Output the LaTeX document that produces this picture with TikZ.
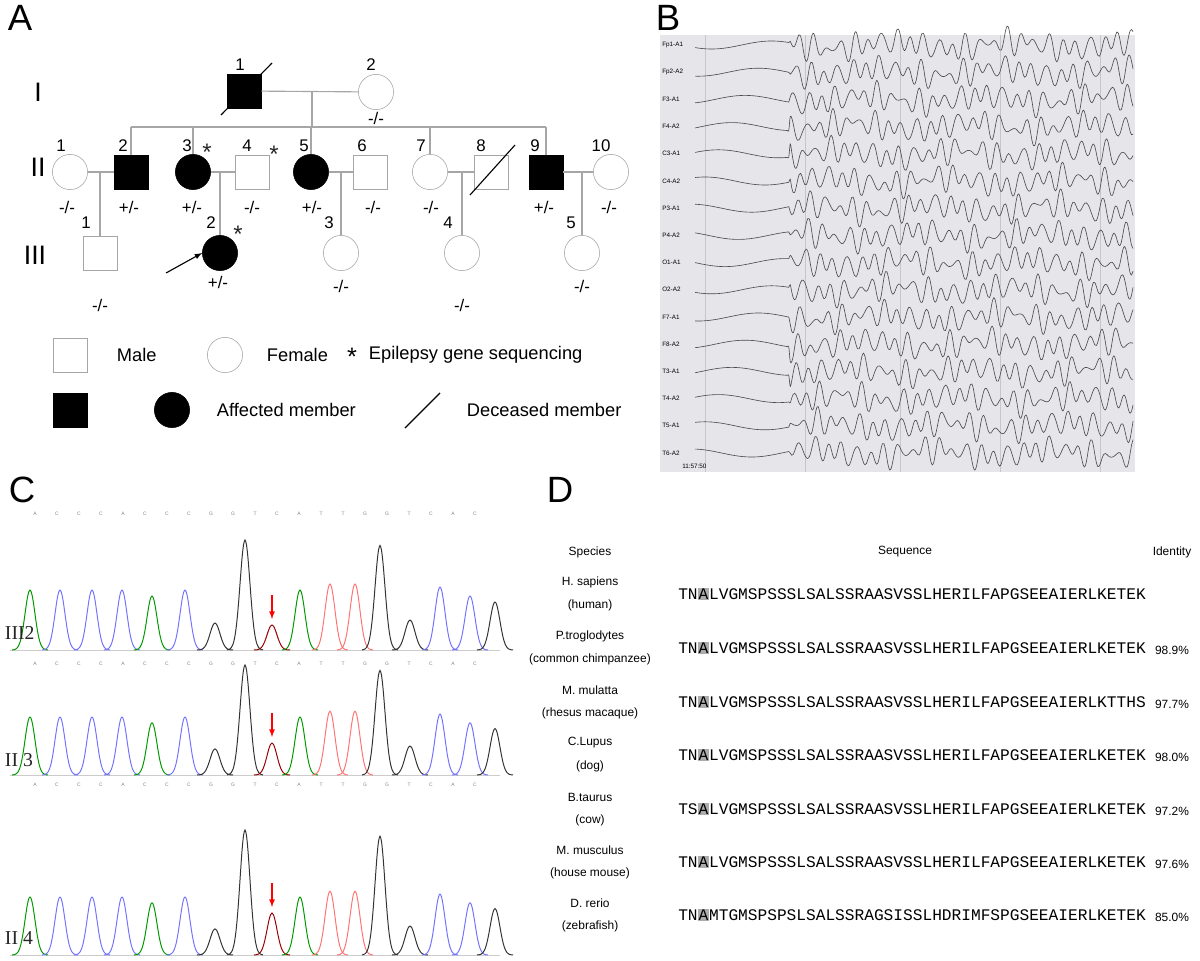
\documentclass[tikz,border=0pt]{standalone}
\usepackage{fontspec}
\setmainfont{Liberation Sans}
\newfontfamily\seqfont{Liberation Mono}
\newfontfamily\serifont{Liberation Serif}
\usetikzlibrary{positioning}
\tikzset{
  male/.style={draw=gray!70, fill=white, minimum size=0.86cm, inner sep=0pt},
  female/.style={draw=gray!70, fill=white, circle, minimum size=0.88cm, inner sep=0pt},
  aff/.style={fill=black, draw=black},
  lbl/.style={font=\fontsize{12}{12}\selectfont},
  gen/.style={font=\fontsize{19}{19}\selectfont},
  panel/.style={font=\fontsize{26}{26}\selectfont},
  pline/.style={gray!70, line width=0.8pt},
  trace/.style={gray!60!black, line width=0.45pt},
  spec/.style={font=\fontsize{8.5}{10}\selectfont},
  seq/.style={font=\seqfont\fontsize{11.5}{12}\selectfont, anchor=west, inner sep=0pt},
  clbl/.style={font=\serifont\fontsize{14}{14}\selectfont, gray!30!black, anchor=west}
}
\begin{document}
\begin{tikzpicture}[x=0.025cm, y=-0.025cm]
\useasboundingbox (0,0) rectangle (1200,960);

% panel letters
\node[panel] at (20,18) {A};
\node[panel] at (668,18) {B};
\node[panel] at (22,490) {C};
\node[panel] at (560,490) {D};

% generations
\node[gen] at (38,92) {I};
\node[gen] at (38,167) {II};
\node[gen] at (35,255) {III};

% generation I
\node[male,aff] (i1) at (244,91) {};
\node[female] (i2) at (376,92) {};
\draw[pline] (i1) -- (i2);
\coordinate (im) at (312,92);
\draw[pline] (im) -- (312,127);
\draw[pline] (131,127) -- (546,127);
\draw[line width=0.8pt] (221,115) -- (272,63);

% generation II
\node[female] (ii1) at (70,172) {};
\node[male,aff] (ii2) at (131,172) {};
\node[female,aff] (ii3) at (193,172) {};
\node[male] (ii4) at (252,172) {};
\node[female,aff] (ii5) at (311,172) {};
\node[male] (ii6) at (370,172) {};
\node[female] (ii7) at (430,172) {};
\node[male] (ii8) at (491,172) {};
\node[male,aff] (ii9) at (546,172) {};
\node[female] (ii10) at (611,172) {};
\draw[pline] (ii2.north) -- (131,127);
\draw[pline] (ii3.north) -- (193,127);
\draw[pline] (ii5.north) -- (311,127);
\draw[pline] (ii7.north) -- (430,127);
\draw[pline] (ii9.north) -- (546,127);
\draw[pline] (ii1) -- (ii2);
\draw[pline] (ii3) -- (ii4);
\draw[pline] (ii5) -- (ii6);
\draw[pline] (ii7) -- (ii8);
\draw[pline] (ii9) -- (ii10);
\draw[line width=0.8pt] (470,195) -- (515,145);

% generation III
\node[male] (iii1) at (100,253) {};
\node[female,aff] (iii2) at (220,253) {};
\node[female] (iii3) at (341,253) {};
\node[female] (iii4) at (462,253) {};
\node[female] (iii5) at (582,253) {};
\draw[pline] (100,172) -- (iii1.north);
\draw[pline] (220,172) -- (iii2.north);
\draw[pline] (341,172) -- (iii3.north);
\draw[pline] (462,172) -- (iii4.north);
\draw[pline] (582,172) -- (iii5.north);
\draw[-latex, line width=0.8pt] (166,273) -- (iii2.west);

% numbers
\foreach \x/\y/\t in {240/65/1,371/65/2,61/146/1,123/146/2,187/146/3,247/146/4,304/146/5,362/146/6,421/146/7,481/146/8,535/146/9,601/146/10,86/223/1,211/223/2,329/223/3,448/223/4,571/223/5}
  \node[lbl] at (\x,\y) {\t};
% asterisks
\foreach \x/\y in {207/152,274/154,238/234}
  \node[font=\fontsize{17}{17}\selectfont, gray!30!black] at (\x,\y) {*};
% genotypes
\foreach \x/\y/\t in {376/118/{-/-},67/207/{-/-},129/207/{+/-},192/207/{+/-},252/207/{-/-},312/207/{+/-},373/207/{-/-},431/207/{-/-},544/207/{+/-},609/207/{-/-},100/305/{-/-},218/282/{+/-},341/286/{-/-},462/305/{-/-},582/286/{-/-}}
  \node[lbl] at (\x,\y) {\t};

% legend
\node[male] (lm) at (70,355) {};
\node[lbl, font=\fontsize{13}{13}\selectfont, anchor=west] at (112,355) {Male};
\node[female] (lf) at (225,355) {};
\node[lbl, font=\fontsize{13}{13}\selectfont, anchor=west] at (262,355) {Female};
\node[font=\fontsize{18}{18}\selectfont] at (352,357) {*};
\node[lbl, font=\fontsize{13}{13}\selectfont, anchor=west] at (364,355) {Epilepsy gene sequencing};
\node[male,aff] (la) at (70,410) {};
\node[female,aff] (lb) at (172,410) {};
\node[lbl, font=\fontsize{13}{13}\selectfont, anchor=west] at (212,410) {Affected member};
\draw[line width=0.8pt] (405,428) -- (440,393);
\node[lbl, font=\fontsize{13}{13}\selectfont, anchor=west] at (462,410) {Deceased member};

% panel B: EEG
\fill[blue!8!gray!18] (660,35) rectangle (1135,472);
\foreach \x in {705,805,900,1000,1100} \draw[gray!45, line width=0.3pt] (\x,35) -- (\x,472);
\foreach \t [count=\i] in {Fp1-A1,Fp2-A2,F3-A1,F4-A2,C3-A1,C4-A2,P3-A1,P4-A2,O1-A1,O2-A2,F7-A1,F8-A2,T3-A1,T4-A2,T5-A1,T6-A2}{
  \pgfmathsetmacro{\yy}{45+27.2*(\i-1)}
  \node[font=\fontsize{4.5}{5}\selectfont, anchor=west, inner sep=0pt] at (662,\yy) {\t};
  \draw[trace] plot[domain=695:1133, samples=300, smooth]
    (\x, {\yy + 4*sin((\x-695)*3+\i*40) + (\x>790)*(8*sin((\x-695)*26+\i*70)+5*sin((\x-695)*17+\i*23)+3*sin((\x-695)*33+\i*11))});
}
\node[font=\fontsize{4.5}{5}\selectfont, anchor=west, inner sep=0pt] at (682,466) {11:57:50};

% panel C: chromatograms
\foreach \base/\ha/\hb/\hc in {650/60/25/110, 775/58/32/110, 955/58/42/125}{
  \draw[gray!40, line width=0.3pt] (10,\base) -- (500,\base);
  \foreach \xc/\h/\c in {30/\ha/green!60!black,60/\ha/blue!55,92/\ha/blue!55,122/\ha/blue!55,152/0.9*\ha/green!60!black,185/\ha/blue!55,215/0.45*\ha/gray!40!black,245/\hc/gray!40!black,272/\hb/red!60!black,300/\ha/green!60!black,330/1.1*\ha/red!55,355/1.1*\ha/red!55,380/0.95*\hc/gray!40!black,410/0.5*\ha/gray!40!black,440/1.05*\ha/blue!55,470/0.9*\ha/blue!55,495/0.8*\ha/gray!40!black}
    \draw[\c, line width=0.7pt] plot[domain=\xc-18:\xc+18, samples=25, smooth] (\x,{\base-(\h)*exp(-((\x-\xc)/7)^2)});
  \draw[-latex, red, line width=0.9pt] (272,\base-\hb-30) -- (272,\base-\hb-6);
}
\node[clbl] at (0,633) {III2};
\node[clbl] at (0,760) {II 3};
\node[clbl] at (0,938) {II 4};
\foreach \y in {514,664,785}
  \foreach \b [count=\k] in {A,C,C,C,A,C,C,C,G,G,T,C,A,T,T,G,G,T,C,A,C}
    \node[font=\fontsize{3.5}{4}\selectfont, gray] at (35+22*\k-22,\y) {\b};

% panel D: alignment
\node[spec] at (590,552) {Species};
\node[spec] at (905,552) {Sequence};
\node[spec] at (1172,552) {Identity};
\newcommand{\hlA}[1]{\setlength{\fboxsep}{0.6pt}\colorbox{gray!65}{#1}}
\foreach \sp/\cn/\y/\pre/\rest/\id in {
  H. sapiens/(human)/582/TN/LVGMSPSSSLSALSSRAASVSSLHERILFAPGSEEAIERLKETEK/,
  P.troglodytes/(common chimpanzee)/636/TN/LVGMSPSSSLSALSSRAASVSSLHERILFAPGSEEAIERLKETEK/98.9\%,
  M. mulatta/(rhesus macaque)/690/TN/LVGMSPSSSLSALSSRAASVSSLHERILFAPGSEEAIERLKTTHS/97.7\%,
  C.Lupus/(dog)/743/TN/LVGMSPSSSLSALSSRAASVSSLHERILFAPGSEEAIERLKETEK/98.0\%,
  B.taurus/(cow)/797/TS/LVGMSPSSSLSALSSRAASVSSLHERILFAPGSEEAIERLKETEK/97.2\%,
  M. musculus/(house mouse)/850/TN/LVGMSPSSSLSALSSRAASVSSLHERILFAPGSEEAIERLKETEK/97.6\%,
  D. rerio/(zebrafish)/903/TN/MTGMSPSPSLSALSSRAGSISSLHDRIMFSPGSEEAIERLKETEK/85.0\%}{
  \node[spec] at (590,\y) {\sp};
  \node[spec] at (590,\y+23) {\cn};
  \node[seq] at (678,\y+12) {\pre\hlA{A}\rest};
  \node[spec] at (1172,\y+14) {\id};
}
\end{tikzpicture}
\end{document}
